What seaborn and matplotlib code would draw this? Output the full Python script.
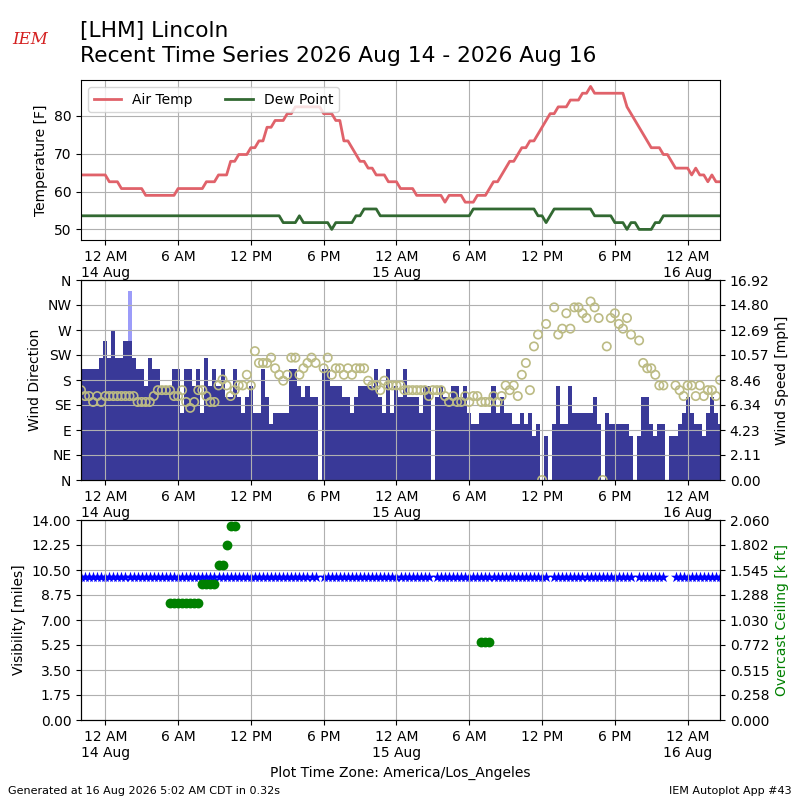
import numpy as np
import pandas as pd
import matplotlib
matplotlib.use("Agg")
import matplotlib.pyplot as plt
import matplotlib.dates as mdates
from matplotlib.ticker import FuncFormatter
import seaborn as sns

nan = np.nan

# observations every 20 minutes, local time (America/Los_Angeles)
START = pd.Timestamp("2026-08-13 22:00")

temp_f = ([64.4] * 7 + [62.6] * 3 + [60.8] * 6 + [59.0] * 8 + [60.8] * 7 + [62.6] * 3
          + [64.4] * 3 + [68.0] * 2 + [69.8] * 3 + [71.6] * 2 + [73.4] * 2 + [77.0] * 2
          + [78.8] * 3 + [80.6] * 2 + [82.4] * 7 + [80.6] * 3 + [78.8] * 2 + [73.4] * 2
          + [71.6, 69.8] + [68.0] * 2 + [66.2] * 2 + [64.4] * 3 + [62.6] * 3
          + [60.8] * 4 + [59.0] * 7 + [57.2] + [59.0] * 4 + [57.2] * 3 + [59.0] * 3
          + [60.8] + [62.6] * 2 + [64.4, 66.2] + [68.0] * 2 + [69.8] + [71.6] * 2
          + [73.4] * 2 + [75.2, 77.0, 78.8] + [80.6] * 2 + [82.4] * 3 + [84.2] * 3
          + [86.0] * 2 + [87.8] + [86.0] * 8 + [82.4, 80.6, 78.8, 77.0, 75.2, 73.4]
          + [71.6] * 3 + [69.8] * 2 + [68.0] + [66.2] * 4 + [64.4, 66.2, 64.4, 64.4,
          62.6, 64.4, 62.6, 62.6])

dewp_f = ([53.6] * 50 + [51.8] * 4 + [53.6] + [51.8] * 7 + [50.0] + [51.8] * 5
          + [53.6] * 2 + [55.4] * 4 + [53.6] * 23 + [55.4] * 16 + [53.6] * 2 + [51.8]
          + [53.6] + [55.4] * 10 + [53.6] * 5 + [51.8] * 3 + [50.0] + [51.8] * 2
          + [50.0] * 4 + [51.8] * 2 + [53.6] * 15)

wind_dir = ([200] * 5 + [220, 250, 220, 270, 220, 220, 250, 250, 220, 200, 200, 170, 220,
            200, 200, 170, 170, 170, 200, 200, 120, 200, 200, 170, 200, 120, 220, 170,
            200, 170, 200, 150, 150, 200, 150, 120, 150, 170, 120, 120, 200, 150, 100]
            + [120] * 4 + [200, 200, 170, 150, 170, 150, 150, nan, 200, 200, 170, 170,
            170, 150, 150, 120, 150, 170, 170, 170, 170, 200, 150, 120, 200, 120, 170,
            150, 200, 150, 150, 150, 120, 170, 170, nan, 150, 170, 150, 150, 170, 170,
            150, 170, 120, 100, 100, 120, 120, 120, 170, 120, 150, 120, 120, 100, 100,
            120, 100, 120, 80, 100, 0, 80, nan, 100, 170, 100, 100, 170] + [120] * 5
            + [150, 100, 0, 120] + [100] * 5 + [80, nan, 80, 150, 150, 100, 80, 100,
            100, nan, 80, 80, 100, 120, 150, 120, 100, 100, 80, 120, 150, 120, 100])

# single lighter bar (peak direction)
wind_dir_peak = [nan] * 12 + [340] + [nan] * 146

wind_mph = ([7.6, 7.1, 7.1, 6.6, 7.1, 6.6] + [7.1] * 8 + [6.6] * 4 + [7.1] + [7.6] * 4
            + [7.1, 7.1, 7.6, 6.6, 6.1, 6.6, 7.6, 7.6, 7.1, 6.6, 6.6, 8.0, 8.5, 8.0,
            7.1, 7.6, 8.0, 8.0, 8.9, 8.0, 10.9, 9.9, 9.9, 9.9, 10.35, 9.45, 8.9, 8.4,
            8.9, 10.35, 10.35, 8.9, 9.45, 9.9, 10.35, 9.9, nan, 9.45, 10.35, 8.9, 9.45,
            9.45, 8.9, 9.45, 8.9, 9.45, 9.45, 9.45, 8.4, 8.0, 8.0, 7.6, 8.4] + [8.0] * 4
            + [7.6] * 6 + [7.1, 7.6, 7.6, 7.6, 7.1, 6.6, 7.1, 6.6, 6.6, 7.1, 6.6, 7.1,
            7.1, 6.6, 6.6, 6.6, 7.1, 6.6, 7.1, 8.0, 7.6, 8.0, 7.1, 8.9, 9.9, 7.6, 11.3,
            12.3, 0.0, 13.2, nan, 14.6, 12.3, 12.8, 14.1, 12.8, 14.6, 14.6, 14.1, 13.7,
            15.1, 14.6, 13.7, 0.0, 11.3, 13.7, 14.1, 13.2, 12.8, 13.7, 12.3, nan, 11.8,
            9.9, 9.45, 9.45, 8.9, 8.0, 8.0, nan, nan, 8.0, 7.6, 7.1, 8.0, 8.0, 7.1, 8.0,
            7.1, 7.6, 7.6, 7.1, 8.46])

missing = [59, 87, 116, 137, 145, 146]
visibility_mi = [nan if i in missing else 10.0 for i in range(len(temp_f))]

ceiling_kft = ([nan] * 22 + [1.2] * 8 + [1.4] * 4 + [1.6] * 2 + [1.8] + [2.0] * 2
               + [nan] * 60 + [0.8] * 3 + [nan] * 57)

valid = pd.date_range(START, periods=len(temp_f), freq="20min")
df = pd.DataFrame({
    "valid": valid, "tmpf": temp_f, "dwpf": dewp_f, "drct": wind_dir,
    "peak": wind_dir_peak, "smph": wind_mph, "vsby": visibility_mi, "ceil": ceiling_kft,
})

fig = plt.figure(figsize=(8, 8), dpi=100)
ax1 = fig.add_axes([0.10125, 0.70, 0.79875, 0.20])
ax2 = fig.add_axes([0.10125, 0.40, 0.79875, 0.25])
ax3 = fig.add_axes([0.10125, 0.10, 0.79875, 0.25])


def time_fmt(x, pos):
    d = mdates.num2date(x)
    hr = d.hour % 12 or 12
    lbl = f"{hr} {'AM' if d.hour < 12 else 'PM'}"
    if d.hour == 0:
        lbl += f"\n{d.day} {d.strftime('%b')}"
    return lbl


# temperatures
sns.lineplot(data=df, x="valid", y="tmpf", ax=ax1, color="#e0626a", lw=2, label="Air Temp")
sns.lineplot(data=df, x="valid", y="dwpf", ax=ax1, color="#326932", lw=2, label="Dew Point")
ax1.set_ylim(47.2, 89.5)
ax1.set_ylabel("Temperature [F]")
ax1.legend(loc="upper left", ncol=2, fontsize=10, columnspacing=2.3)

# wind
ax2.bar(df["valid"], df["peak"], width=1 / 72, color="#9c9cf9")
ax2.bar(df["valid"], df["drct"], width=1 / 72, color="#393998")
ax2.set_ylim(0, 360)
ax2.set_yticks(range(0, 361, 45))
ax2.set_yticklabels(["N", "NE", "E", "SE", "S", "SW", "W", "NW", "N"])
ax2.set_ylabel("Wind Direction")
ax2b = ax2.twinx()
sns.scatterplot(data=df, x="valid", y="smph", ax=ax2b, marker="o", s=36,
                facecolor="none", edgecolor="#bcbb84", linewidth=1.2)
ax2b.set_ylim(0, 16.916)
ax2b.set_yticks(np.linspace(0, 16.916, 9))
ax2b.yaxis.set_major_formatter(FuncFormatter(lambda v, p: f"{v:.2f}"))
ax2b.set_ylabel("Wind Speed [mph]")

# visibility / ceiling
sns.scatterplot(data=df, x="valid", y="vsby", ax=ax3, marker="*", s=70, color="b",
                linewidth=0)
ax3.set_ylim(0, 14)
ax3.set_yticks(np.linspace(0, 14, 9))
ax3.yaxis.set_major_formatter(FuncFormatter(lambda v, p: f"{v:.2f}"))
ax3.set_ylabel("Visibility [miles]")
ax3.set_xlabel("Plot Time Zone: America/Los_Angeles")
ax3b = ax3.twinx()
sns.scatterplot(data=df, x="valid", y="ceil", ax=ax3b, marker="o", s=50, color="g",
                linewidth=0)
ax3b.set_ylim(0, 2.06)
ax3b.set_yticks(np.linspace(0, 2.06, 9))
ax3b.yaxis.set_major_formatter(FuncFormatter(lambda v, p: f"{v:.3f}"))
ax3b.set_ylabel("Overcast Ceiling [k ft]", color="g")

for ax in (ax1, ax2, ax3):
    ax.set_xlim(valid[0], valid[-1])
    ax.xaxis.set_major_locator(mdates.HourLocator(byhour=[0, 6, 12, 18]))
    ax.xaxis.set_major_formatter(FuncFormatter(time_fmt))
    ax.grid(True)
    if ax is not ax3:
        ax.set_xlabel("")

fig.text(0.1, 0.974, "[LHM] Lincoln\nRecent Time Series 2026 Aug 14 - 2026 Aug 16",
         fontsize=15.7, va="top", ha="left", linespacing=1.3)
fig.text(0.038, 0.951, "IEM", fontsize=12, color="#d42020", style="italic",
         family="DejaVu Serif", ha="center", va="center")
fig.text(0.01, 0.007, "Generated at 16 Aug 2026 5:02 AM CDT in 0.32s", fontsize=8)
fig.text(0.99, 0.007, "IEM Autoplot App #43", fontsize=8, ha="right")

fig.savefig("out.png", dpi=100)
